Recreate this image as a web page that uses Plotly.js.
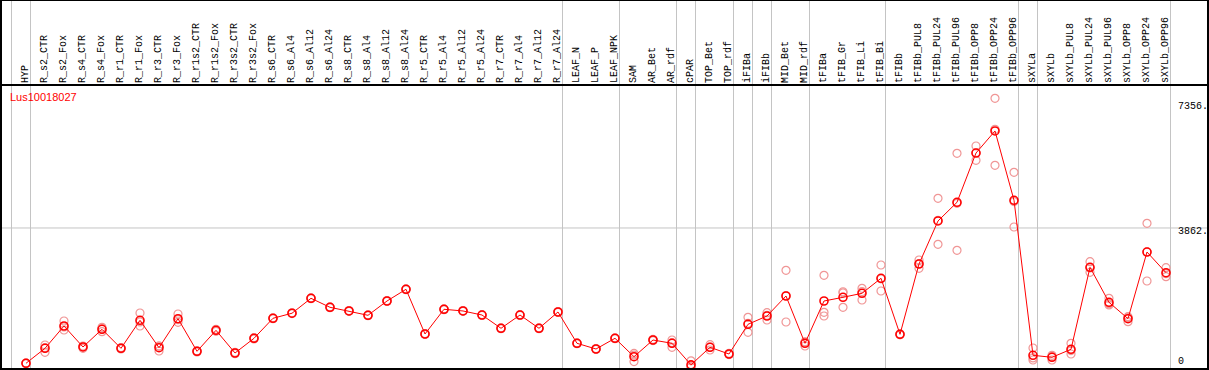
<!DOCTYPE html>
<html><head><meta charset="utf-8">
<script src="https://cdn.plot.ly/plotly-3.0.1.min.js"></script>
<style>html,body{margin:0;padding:0;background:#fff;overflow:hidden;} #chart{width:1209px;height:370px;}</style>
</head><body><div id="chart"></div>
<script>
const categories = ["HYP","R_s2_CTR","R_s2_Fox","R_s4_CTR","R_s4_Fox","R_r1_CTR","R_r1_Fox","R_r3_CTR","R_r3_Fox","R_r1s2_CTR","R_r1s2_Fox","R_r3s2_CTR","R_r3s2_Fox","R_s6_CTR","R_s6_Al4","R_s6_Al12","R_s6_Al24","R_s8_CTR","R_s8_Al4","R_s8_Al12","R_s8_Al24","R_r5_CTR","R_r5_Al4","R_r5_Al12","R_r5_Al24","R_r7_CTR","R_r7_Al4","R_r7_Al12","R_r7_Al24","LEAF_N","LEAF_P","LEAF_NPK","SAM","AR_Bet","AR_rdf","cPAR","TOP_Bet","TOP_rdf","iFIBa","iFIBb","MID_Bet","MID_rdf","tFIBa","tFIB_Gr","tFIB_Li","tFIB_Bi","tFIBb","tFIBb_PUL8","tFIBb_PUL24","tFIBb_PUL96","tFIBb_OPP8","tFIBb_OPP24","tFIBb_OPP96","sXYLa","sXYLb","sXYLb_PUL8","sXYLb_PUL24","sXYLb_PUL96","sXYLb_OPP8","sXYLb_OPP24","sXYLb_OPP96"];

const meanValues = [103,519,1139,556,1047,519,1297,536,1342,436,1019,389,797,1353,1494,1908,1658,1556,1436,1833,2158,917,1603,1556,1444,1075,1444,1075,1528,658,500,797,286,750,658,60,547,361,1186,1417,1972,658,1833,1936,2047,2464,908,2861,4056,4575,5944,6556,4631,325,269,492,2769,1797,1342,3194,2619];

const rep1 = [95,408,1278,583,1103,500,1500,444,1472,420,990,370,780,1340,1484,1896,1648,1546,1426,1823,2148,907,1593,1546,1434,1065,1434,1065,1518,648,490,787,150,735,750,172,619,345,1381,1508,2686,583,2547,2090,2186,2833,895,2972,4686,5936,6139,7464,5408,528,194,658,2925,1908,1258,3992,2758];
const rep2 = [105,538,1111,519,1057,519,1252,583,1312,436,1020,389,797,1353,1494,1908,1658,1556,1436,1833,2158,917,1603,1556,1444,1075,1444,1075,1528,658,500,797,330,750,677,8,550,361,1213,1437,1980,690,1519,2060,2094,2448,908,2869,4074,4547,5951,6601,4596,253,290,457,2751,1760,1370,3201,2591];
const rep3 = [110,611,1028,566,981,538,1139,581,1242,452,1048,408,815,1366,1504,1920,1668,1566,1446,1843,2168,927,1613,1566,1454,1085,1454,1085,1538,668,510,807,378,765,547,0,472,377,964,1306,1250,700,1417,1658,1861,2111,921,2742,3408,3242,5742,5603,3889,194,323,361,2631,1725,1398,2389,2508];

const geneLabel = "Lus10018027";
const yTickValues = [7356, 3862, 0];
const yTickLabels = ["7356.", "3862.", "0"];
const groupBoundaries = [0,1,29,32,35,36,38,39,40,42,46,53,54,61];

// ---- geometry (pixels) ----
const W = 1209, H = 370;
const xPx0 = 26, xStep = 19;          // pixel of first category and spacing
const yZeroPx = 367, yScale = 0.036;  // pixel of value 0 and px per unit
const xRange = [(0 - xPx0) / xStep, (W - xPx0) / xStep];
const yRange = [(yZeroPx - H) / yScale, yZeroPx / yScale];
const py = px => 1 - px / H;
const pxX = px => px / W;

const idx = categories.map((_, i) => i);
const repX = idx.concat(idx, idx);
const repY = rep1.concat(rep2, rep3);

const traces = [
  {
    x: repX, y: repY, type: 'scatter', mode: 'markers', hoverinfo: 'skip',
    marker: { symbol: 'circle-open', size: 8, color: 'rgb(240,150,150)', line: { width: 1.2, color: 'rgb(240,150,150)' } }
  },
  {
    x: idx, y: meanValues, type: 'scatter', mode: 'lines+markers',
    line: { color: '#ff0000', width: 1 },
    marker: { symbol: 'circle-open', size: 8, color: '#ff0000', line: { width: 1.6, color: '#ff0000' } }
  }
];

const shapes = [];
groupBoundaries.forEach(b => {
  shapes.push({ type: 'line', layer: 'below', xref: 'x', yref: 'paper', x0: b - 14.5 / xStep, x1: b - 14.5 / xStep, y0: 0, y1: 1, line: { color: '#c4c4c4', width: 1 } });
});
shapes.push({ type: 'line', layer: 'below', xref: 'paper', yref: 'y', x0: 0, x1: 1, y0: yTickValues[1], y1: yTickValues[1], line: { color: '#c4c4c4', width: 1 } });
// frame
shapes.push({ type: 'line', xref: 'paper', yref: 'paper', x0: 0, x1: 1, y0: py(85), y1: py(85), line: { color: '#000', width: 2 } });
shapes.push({ type: 'line', xref: 'paper', yref: 'paper', x0: 0, x1: 1, y0: py(0.5), y1: py(0.5), line: { color: '#000', width: 1 } });
shapes.push({ type: 'line', xref: 'paper', yref: 'paper', x0: 0, x1: 1, y0: py(369), y1: py(369), line: { color: '#000', width: 2 } });
shapes.push({ type: 'line', xref: 'paper', yref: 'paper', x0: pxX(1), x1: pxX(1), y0: 0, y1: 1, line: { color: '#000', width: 2 } });
shapes.push({ type: 'line', xref: 'paper', yref: 'paper', x0: pxX(1208), x1: pxX(1208), y0: 0, y1: 1, line: { color: '#000', width: 2 } });

const annotations = categories.map((c, i) => ({
  x: i, xref: 'x', y: py(85), yref: 'paper', text: c, showarrow: false,
  textangle: -90, xanchor: 'center', yanchor: 'bottom', xshift: -1,
  font: { family: 'Liberation Mono, monospace', size: 10, color: '#000' }
}));
annotations.push({
  x: pxX(8), xref: 'paper', y: py(97), yref: 'paper', text: geneLabel, showarrow: false,
  xanchor: 'left', yanchor: 'middle', font: { family: 'Liberation Sans, Arial, sans-serif', size: 11, color: '#ff0000' }
});
const yShifts = [-4, -4, 6];
yTickValues.forEach((v, k) => {
  annotations.push({
    x: pxX(1176), xref: 'paper', y: v, yref: 'y', text: yTickLabels[k], showarrow: false,
    xanchor: 'left', yanchor: 'middle', yshift: yShifts[k],
    font: { family: 'Liberation Mono, monospace', size: 10, color: '#000' }
  });
});

const layout = {
  width: W, height: H,
  margin: { l: 0, r: 0, t: 0, b: 0, pad: 0 },
  paper_bgcolor: '#fff', plot_bgcolor: '#fff',
  showlegend: false,
  xaxis: { range: xRange, visible: false, showgrid: false, zeroline: false, fixedrange: true },
  yaxis: { range: yRange, visible: false, showgrid: false, zeroline: false, fixedrange: true },
  shapes: shapes,
  annotations: annotations
};

Plotly.newPlot('chart', traces, layout, { staticPlot: true, displayModeBar: false });
</script>
</body></html>
